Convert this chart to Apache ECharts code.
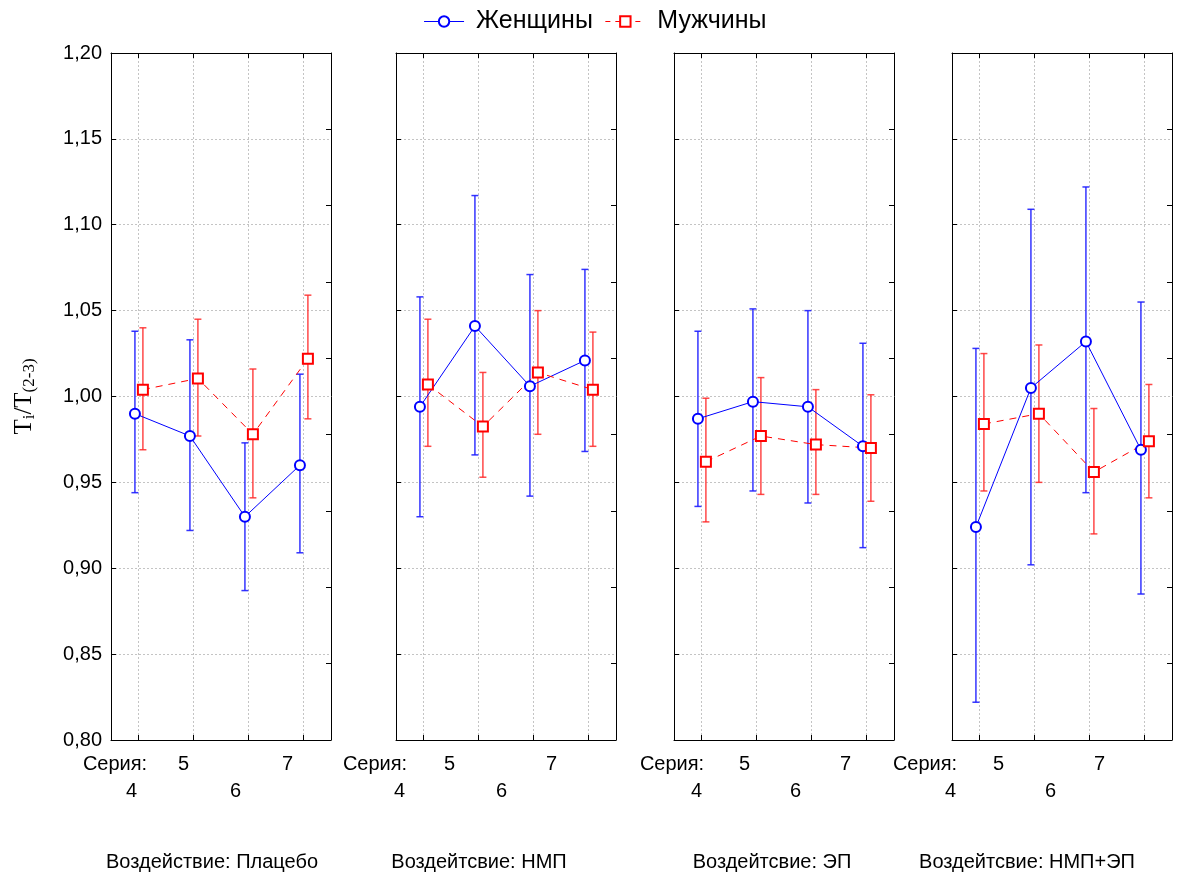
<!DOCTYPE html>
<html><head><meta charset="utf-8">
<script src="https://cdn.jsdelivr.net/npm/echarts@6/dist/echarts.min.js"></script>
<style>html,body{margin:0;padding:0;background:#fff}#c{width:1190px;height:879px}</style>
</head><body><div id="c"></div>
<script>
// ---------- DATA ----------
const SERIES_IDS = [4, 5, 6, 7];
const PANEL_TITLES = ['Воздействие: Плацебо', 'Воздейтсвие: НМП', 'Воздейтсвие: ЭП', 'Воздейтсвие: НМП+ЭП'];
const LEGEND_NAMES = ['Женщины', 'Мужчины'];
const X_PREFIX = 'Серия:';
const Y_MIN = 0.80, Y_MAX = 1.20, Y_STEP = 0.05;

// Женщины (mean, lower, upper) per panel
const WOMEN_MEAN = [
  [0.990, 0.977, 0.930, 0.960],
  [0.994, 1.041, 1.006, 1.021],
  [0.987, 0.997, 0.994, 0.971],
  [0.924, 1.005, 1.032, 0.969]
];
const WOMEN_LOW = [
  [0.944, 0.922, 0.887, 0.909],
  [0.930, 0.966, 0.942, 0.968],
  [0.936, 0.945, 0.938, 0.912],
  [0.822, 0.902, 0.944, 0.885]
];
const WOMEN_HIGH = [
  [1.038, 1.033, 0.973, 1.013],
  [1.058, 1.117, 1.071, 1.074],
  [1.038, 1.051, 1.050, 1.031],
  [1.028, 1.109, 1.122, 1.055]
];
// Мужчины
const MEN_MEAN = [
  [1.004, 1.0105, 0.978, 1.022],
  [1.007, 0.9825, 1.014, 1.004],
  [0.962, 0.977, 0.972, 0.970],
  [0.984, 0.990, 0.956, 0.974]
];
const MEN_LOW = [
  [0.969, 0.977, 0.941, 0.987],
  [0.971, 0.953, 0.978, 0.971],
  [0.927, 0.943, 0.943, 0.939],
  [0.945, 0.950, 0.920, 0.941]
];
const MEN_HIGH = [
  [1.040, 1.045, 1.016, 1.059],
  [1.045, 1.014, 1.050, 1.0375],
  [0.999, 1.011, 1.004, 1.001],
  [1.025, 1.030, 0.993, 1.007]
];

// ---------- LAYOUT / STYLE ----------
const GRID_LEFT = [111, 396, 674, 952];
const GRID_W = 220, GRID_TOP = 53, GRID_H = 687;
const DODGE_W = -0.065, DODGE_M = 0.08;     // small horizontal offset of the two groups
const LABEL_SHIFT = [[7, 10, 13, 16], [24, 29, 32, 37], [5, 12, 16, 21], [29, 36, 39, 45]];
const PREFIX_X = [115, 375, 672, 925];
const TITLE_X = [212, 479, 772, 1027];
const BLUE = '#0000ff', RED = '#ff0000';
const FONT = 'Liberation Sans, Arial, sans-serif';

const ROW1_IDS = SERIES_IDS.filter((_, i) => i % 2 === 1);   // 5, 7
const ROW2_IDS = SERIES_IDS.filter((_, i) => i % 2 === 0);   // 4, 6

const chart = echarts.init(document.getElementById('c'), null, {renderer: 'canvas'});

const grids = [], xAxes = [], yAxes = [], series = [], graphics = [];
const gridLine = {show: true, lineStyle: {color: '#c4c4c4', width: 1, type: [2, 2]}};
const axisLineBlack = {show: true, onZero: false, lineStyle: {color: '#000', width: 1}};

function errRender(color, width) {
  return function (params, api) {
    const x = api.value(0);
    const p1 = api.coord([x, api.value(1)]);
    const p2 = api.coord([x, api.value(2)]);
    const c = 3.5;
    const st = {stroke: color, lineWidth: width};
    return {type: 'group', children: [
      {type: 'line', shape: {x1: p1[0], y1: p1[1], x2: p2[0], y2: p2[1]}, style: st},
      {type: 'line', shape: {x1: p1[0] - c, y1: p1[1], x2: p1[0] + c, y2: p1[1]}, style: st},
      {type: 'line', shape: {x1: p2[0] - c, y1: p2[1], x2: p2[0] + c, y2: p2[1]}, style: st}
    ]};
  };
}

function makeRich(p) {
  const rich = {};
  SERIES_IDS.forEach((s, i) => {
    rich['r' + i] = {fontSize: 20, lineHeight: 20, fontFamily: FONT, color: '#000',
      padding: [0, 2 * LABEL_SHIFT[p][i], 0, 0]};
  });
  return rich;
}
const fmt = v => { const i = SERIES_IDS.indexOf(v); return '{r' + i + '|' + v + '}'; };

for (let p = 0; p < 4; p++) {
  grids.push({left: GRID_LEFT[p], top: GRID_TOP, width: GRID_W, height: GRID_H,
    containLabel: false, outerBoundsMode: 'none'});
  const rich = makeRich(p);
  // main bottom axis (ticks, grid lines, first label row)
  xAxes.push({
    type: 'value', gridIndex: p, position: 'bottom', min: 3.5, max: 7.5,
    axisLine: axisLineBlack,
    axisTick: {show: true, inside: true, length: 5, customValues: SERIES_IDS, lineStyle: {color: '#000'}},
    axisLabel: {show: true, customValues: ROW1_IDS, margin: 14, rich: rich, formatter: fmt},
    splitLine: gridLine
  });
  // top axis (ticks only)
  xAxes.push({
    type: 'value', gridIndex: p, position: 'top', min: 3.5, max: 7.5,
    axisLine: axisLineBlack,
    axisTick: {show: true, inside: true, length: 5, customValues: SERIES_IDS, lineStyle: {color: '#000'}},
    axisLabel: {show: false}, splitLine: {show: false}
  });
  // second label row
  xAxes.push({
    type: 'value', gridIndex: p, position: 'bottom', min: 3.5, max: 7.5,
    axisLine: {show: false}, axisTick: {show: false}, splitLine: {show: false},
    axisLabel: {show: true, customValues: ROW2_IDS, margin: 41, rich: rich, formatter: fmt}
  });
  const yl = {
    type: 'value', gridIndex: p, position: 'left', min: Y_MIN, max: Y_MAX, interval: Y_STEP,
    axisLine: axisLineBlack,
    axisTick: {show: true, inside: true, length: 5, lineStyle: {color: '#000'}},
    axisLabel: {show: p === 0, fontSize: 20, fontFamily: FONT, color: '#000', margin: 9,
      formatter: v => v.toFixed(2).replace('.', ',')},
    splitLine: gridLine
  };
  if (p === 0) {
    yl.name = '{a|T}{s|i}{a|/T}{s|(2-3)}';
    yl.nameLocation = 'middle';
    yl.nameGap = 72;
    yl.nameRotate = 90;
    yl.nameTextStyle = {color: '#000', rich: {
      a: {fontSize: 25, fontFamily: 'Liberation Serif, Times New Roman, serif', color: '#000', lineHeight: 30},
      s: {fontSize: 17, fontFamily: 'Liberation Serif, Times New Roman, serif', color: '#000', lineHeight: 30, padding: [12, 0, 0, 0]}
    }};
  }
  yAxes.push(yl);
  yAxes.push({
    type: 'value', gridIndex: p, position: 'right', min: 0, max: 9, interval: 1,
    axisLine: axisLineBlack,
    axisTick: {show: true, inside: true, length: 5, lineStyle: {color: '#000'}},
    axisLabel: {show: false}, splitLine: {show: false}
  });

  const xIdx = 3 * p, yIdx = 2 * p;
  series.push({
    type: 'custom', name: 'errW' + p, xAxisIndex: xIdx, yAxisIndex: yIdx, z: 2,
    renderItem: errRender('rgba(30,30,255,0.9)', 1.5),
    encode: {x: 0, y: [1, 2]},
    data: SERIES_IDS.map((s, i) => [s + DODGE_W, WOMEN_LOW[p][i], WOMEN_HIGH[p][i]])
  });
  series.push({
    type: 'custom', name: 'errM' + p, xAxisIndex: xIdx, yAxisIndex: yIdx, z: 2,
    renderItem: errRender('rgba(255,40,40,0.85)', 1.5),
    encode: {x: 0, y: [1, 2]},
    data: SERIES_IDS.map((s, i) => [s + DODGE_M, MEN_LOW[p][i], MEN_HIGH[p][i]])
  });
  series.push({
    type: 'line', name: LEGEND_NAMES[0], xAxisIndex: xIdx, yAxisIndex: yIdx, z: 3,
    symbol: 'circle', symbolSize: 10,
    itemStyle: {color: '#fff', borderColor: BLUE, borderWidth: 2},
    lineStyle: {color: BLUE, width: 1},
    data: SERIES_IDS.map((s, i) => [s + DODGE_W, WOMEN_MEAN[p][i]])
  });
  series.push({
    type: 'line', name: LEGEND_NAMES[1], xAxisIndex: xIdx, yAxisIndex: yIdx, z: 3,
    symbol: 'rect', symbolSize: 10,
    itemStyle: {color: '#fff', borderColor: RED, borderWidth: 2},
    lineStyle: {color: RED, width: 1, type: [7, 6]},
    data: SERIES_IDS.map((s, i) => [s + DODGE_M, MEN_MEAN[p][i]])
  });

  graphics.push({type: 'text', x: PREFIX_X[p], y: 764, style: {text: X_PREFIX, font: '20px ' + FONT, fill: '#000', textAlign: 'center', textVerticalAlign: 'middle'}});
  graphics.push({type: 'text', x: TITLE_X[p], y: 862, style: {text: PANEL_TITLES[p], font: '20px ' + FONT, fill: '#000', textAlign: 'center', textVerticalAlign: 'middle'}});
}

chart.setOption({
  animation: false,
  backgroundColor: '#fff',
  textStyle: {fontFamily: FONT},
  legend: {
    data: [
      {name: LEGEND_NAMES[0], itemStyle: {color: '#fff', borderColor: BLUE, borderWidth: 2}, lineStyle: {color: BLUE, width: 1}},
      {name: LEGEND_NAMES[1], itemStyle: {color: '#fff', borderColor: RED, borderWidth: 2}, lineStyle: {color: RED, width: 1, type: [5, 5]}}
    ],
    top: 4, left: 'center', itemWidth: 40, itemHeight: 13, itemGap: 12,
    textStyle: {fontSize: 25, fontFamily: FONT, color: '#000', padding: [0, 0, 0, 7]}
  },
  grid: grids, xAxis: xAxes, yAxis: yAxes, series: series,
  graphic: graphics
});
</script></body></html>
